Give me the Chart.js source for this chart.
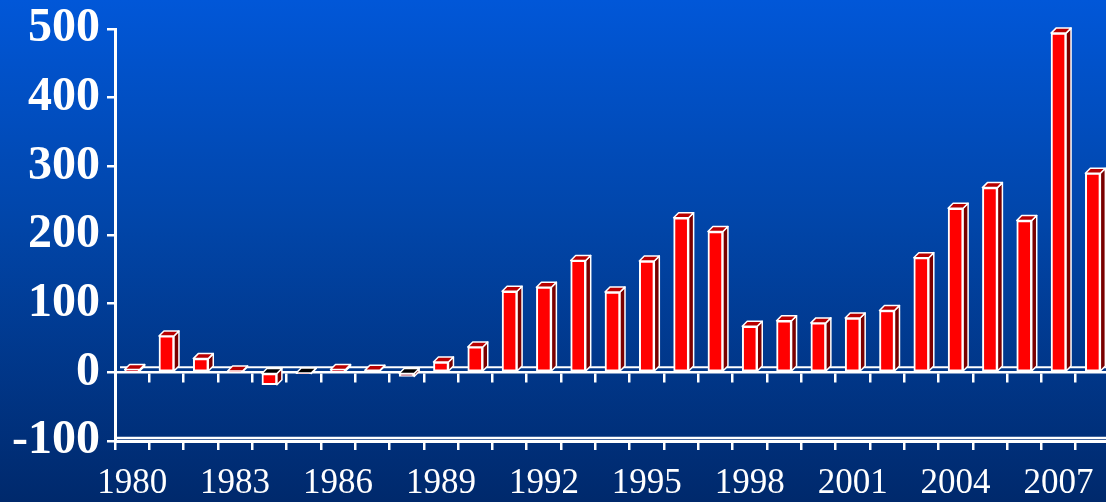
<!DOCTYPE html>
<html>
<head>
<meta charset="utf-8">
<script src="https://cdn.jsdelivr.net/npm/chart.js@4.4.1/dist/chart.umd.min.js"></script>
<style>
  html, body { margin: 0; padding: 0; overflow: hidden; width: 1106px; height: 502px; }
  body { background: linear-gradient(to bottom, #0157d8 0%, #0145a8 45%, #00296c 100%); }
  #wrap { position: absolute; left: 0; top: 0; width: 1110px; height: 502px; }
</style>
</head>
<body>
<div id="wrap"><canvas id="c"></canvas></div>
<script>
const years = ['1980','1981','1982','1983','1984','1985','1986','1987','1988','1989',
  '1990','1991','1992','1993','1994','1995','1996','1997','1998','1999',
  '2000','2001','2002','2003','2004','2005','2006','2007','2008'];
const values = [4, 53, 20, 1, -18, -1, 4, 3, -6, 15,
  37, 118, 124, 163, 117, 162, 225, 205, 67, 75,
  72, 79, 90, 167, 239, 269, 221, 494, 290];
const yTicks = [-100, 0, 100, 200, 300, 400, 500];

const DEPTH = 5;
function poly(ctx, pts, fill) {
  ctx.beginPath();
  ctx.moveTo(pts[0][0], pts[0][1]);
  for (let k = 1; k < pts.length; k++) ctx.lineTo(pts[k][0], pts[k][1]);
  ctx.closePath();
  ctx.fillStyle = fill;
  ctx.fill();
  ctx.stroke();
}
const bar3d = {
  id: 'bar3d',
  beforeDatasetsDraw(chart) {
    const {ctx, chartArea, scales} = chart;
    ctx.save();
    ctx.strokeStyle = '#ffffff';
    ctx.lineWidth = 2;
    let py = scales.y.getPixelForValue(0) - DEPTH;
    ctx.beginPath();
    ctx.moveTo(chartArea.left + DEPTH, py);
    ctx.lineTo(chartArea.right + DEPTH, py);
    ctx.stroke();
    py = scales.y.getPixelForValue(-100) - 3;
    ctx.lineWidth = 2.5;
    ctx.beginPath();
    ctx.moveTo(chartArea.left + 2, py);
    ctx.lineTo(chartArea.right + DEPTH, py);
    ctx.stroke();
    ctx.restore();
  },
  afterDatasetsDraw(chart) {
    const {ctx} = chart;
    const meta = chart.getDatasetMeta(0);
    ctx.save();
    ctx.strokeStyle = '#ffffff';
    ctx.lineWidth = 1.5;
    ctx.lineJoin = 'round';
    meta.data.forEach((bar, i) => {
      const p = bar.getProps(['x', 'y', 'base', 'width'], true);
      const l = p.x - p.width / 2, r = p.x + p.width / 2;
      const top = Math.min(p.y, p.base), bot = Math.max(p.y, p.base);
      const d = DEPTH;
      poly(ctx, [[r, top], [r + d, top - d], [r + d, bot - d], [r, bot]], '#7a0000');
      poly(ctx, [[l, top], [l + d, top - d], [r + d, top - d], [r, top]], values[i] < 0 ? '#000000' : '#b80000');
    });
    ctx.restore();
  }
};

new Chart(document.getElementById('c'), {
  type: 'bar',
  data: {
    labels: years,
    datasets: [{
      data: values,
      xAxisID: 'x',
      backgroundColor: '#ff0000',
      borderColor: '#ffffff',
      borderWidth: 2,
      borderSkipped: false,
      barThickness: 15
    }]
  },
  plugins: [bar3d],
  options: {
    responsive: true,
    maintainAspectRatio: false,
    animation: false,
    layout: { padding: { top: 29, right: 0, left: 0, bottom: 0 } },
    plugins: { legend: { display: false }, tooltip: { enabled: false } },
    scales: {
      x: {
        type: 'category',
        position: 'bottom',
        offset: true,
        grid: { offset: true, drawOnChartArea: false, drawTicks: true, tickLength: 9, color: '#ffffff', lineWidth: 2.5 },
        border: { display: true, color: '#ffffff', width: 3 },
        ticks: {
          autoSkip: false, maxRotation: 0, minRotation: 0,
          color: '#ffffff', padding: 13,
          font: { family: '"Liberation Serif", "Times New Roman", serif', size: 35, weight: 'normal' },
          callback: function(v, i) { return i % 3 === 0 ? years[i] : ''; }
        },
        afterFit: function(s) { s.height = 61; s.paddingLeft = 0; s.paddingRight = 0; }
      },
      x0: {
        type: 'category',
        position: { y: 0 },
        offset: true,
        grid: { offset: true, drawOnChartArea: false, drawTicks: true, tickLength: 9, color: '#ffffff', lineWidth: 2.5 },
        border: { display: true, color: '#ffffff', width: 2.5 },
        ticks: { display: false }
      },
      y: {
        min: -100, max: 500,
        afterBuildTicks: function(s) { s.ticks = yTicks.map(v => ({ value: v })); },
        grid: { drawOnChartArea: false, drawTicks: true, tickLength: 8, color: '#ffffff', lineWidth: 2.5 },
        border: { display: true, color: '#ffffff', width: 3 },
        ticks: {
          color: '#ffffff', padding: 7,
          font: { family: '"Liberation Serif", "Times New Roman", serif', size: 48, weight: 'bold' }
        },
        afterFit: function(s) { s.width = 115; s.paddingTop = 0; s.paddingBottom = 0; }
      }
    }
  }
});
</script>
</body>
</html>
